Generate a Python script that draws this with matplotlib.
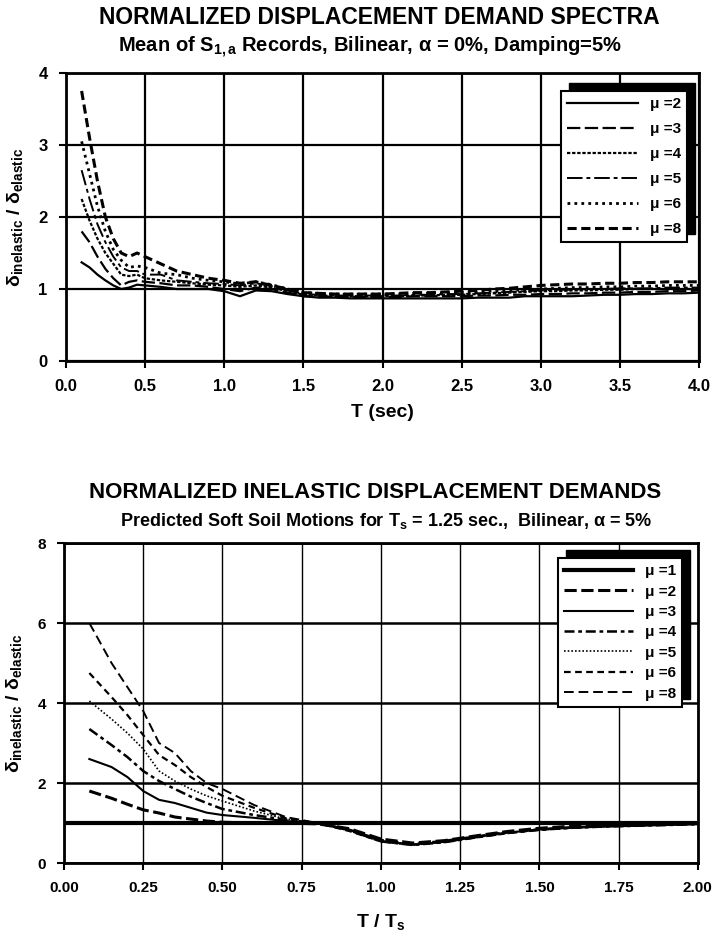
import matplotlib
matplotlib.use('Agg')
import matplotlib.pyplot as plt
from matplotlib.patches import Rectangle

plt.rcParams['font.family'] = ['Liberation Sans', 'DejaVu Sans']
plt.rcParams['font.weight'] = 'bold'
plt.rcParams['mathtext.fontset'] = 'custom'
plt.rcParams['mathtext.rm'] = 'Liberation Sans:bold'
plt.rcParams['mathtext.it'] = 'Liberation Sans:bold'
plt.rcParams['mathtext.bf'] = 'Liberation Sans:bold'

# ---- top chart data: mean of S1,a records ----
T_top = [0.1, 0.15, 0.2, 0.25, 0.3, 0.35, 0.4, 0.45, 0.5, 0.6, 0.7, 0.8, 0.9, 1.0,
         1.1, 1.2, 1.3, 1.4, 1.5, 1.6, 1.7, 1.8, 1.9, 2.0, 2.1, 2.2, 2.3, 2.4, 2.5,
         2.6, 2.7, 2.8, 2.9, 3.0, 3.1, 3.2, 3.3, 3.4, 3.5, 3.6, 3.7, 3.8, 3.9, 4.0]
mu2_top = [1.37, 1.3, 1.2, 1.12, 1.05, 1.0, 1.02, 1.06, 1.05, 1.03, 1.0, 1.0, 1.0, 0.97,
           0.9, 0.98, 0.97, 0.93, 0.9, 0.88, 0.88, 0.87, 0.87, 0.87, 0.87, 0.87, 0.87, 0.87, 0.87,
           0.88, 0.88, 0.88, 0.9, 0.9, 0.9, 0.9, 0.91, 0.92, 0.92, 0.93, 0.93, 0.94, 0.94, 0.95]
mu3_top = [1.8, 1.65, 1.45, 1.28, 1.15, 1.05, 1.1, 1.12, 1.1, 1.08, 1.05, 1.05, 1.03, 1.0,
           0.97, 1.02, 1.0, 0.95, 0.9, 0.9, 0.89, 0.89, 0.89, 0.89, 0.89, 0.9, 0.9, 0.9, 0.9,
           0.91, 0.91, 0.92, 0.92, 0.93, 0.93, 0.94, 0.94, 0.95, 0.95, 0.96, 0.96, 0.97, 0.97, 0.98]
mu4_top = [2.25, 1.95, 1.7, 1.5, 1.35, 1.2, 1.18, 1.2, 1.15, 1.12, 1.1, 1.08, 1.06, 1.05,
           1.03, 1.05, 1.02, 0.97, 0.92, 0.91, 0.9, 0.9, 0.9, 0.9, 0.9, 0.91, 0.91, 0.92, 0.92,
           0.93, 0.94, 0.95, 0.96, 0.97, 0.97, 0.98, 0.98, 0.99, 0.99, 1.0, 1.0, 1.0, 1.0, 1.0]
mu5_top = [2.65, 2.25, 1.9, 1.65, 1.45, 1.3, 1.25, 1.25, 1.2, 1.2, 1.12, 1.1, 1.08, 1.07,
           1.05, 1.08, 1.04, 0.98, 0.93, 0.92, 0.91, 0.91, 0.91, 0.91, 0.91, 0.92, 0.92, 0.93, 0.93,
           0.94, 0.95, 0.96, 0.97, 0.98, 0.99, 0.99, 1.0, 1.0, 1.01, 1.01, 1.01, 1.02, 1.02, 1.02]
mu6_top = [3.05, 2.6, 2.15, 1.8, 1.55, 1.4, 1.3, 1.32, 1.3, 1.22, 1.2, 1.15, 1.12, 1.1,
           1.07, 1.1, 1.06, 1.0, 0.95, 0.94, 0.93, 0.93, 0.93, 0.93, 0.93, 0.94, 0.94, 0.95, 0.95,
           0.96, 0.97, 0.98, 0.99, 1.0, 1.01, 1.02, 1.02, 1.03, 1.03, 1.04, 1.04, 1.05, 1.05, 1.05]
mu8_top = [3.75, 3.1, 2.5, 2.0, 1.7, 1.5, 1.45, 1.5, 1.45, 1.35, 1.25, 1.2, 1.15, 1.12,
           1.08, 1.1, 1.05, 1.0, 0.95, 0.94, 0.93, 0.93, 0.93, 0.93, 0.94, 0.95, 0.95, 0.96, 0.97,
           0.98, 1.0, 1.01, 1.03, 1.05, 1.06, 1.07, 1.07, 1.08, 1.08, 1.09, 1.09, 1.1, 1.1, 1.1]

# ---- bottom chart data: predicted soft soil motions ----
T_bot = [0.08, 0.15, 0.2, 0.25, 0.3, 0.35, 0.4, 0.45, 0.5, 0.6, 0.7, 0.8, 0.9, 1.0,
         1.1, 1.2, 1.3, 1.4, 1.5, 1.6, 1.7, 1.8, 1.9, 2.0]
T_mu1 = [0.0, 2.0]
mu1_bot = [1.0, 1.0]
mu2_bot = [1.8, 1.62, 1.47, 1.33, 1.25, 1.15, 1.1, 1.05, 1.02, 1.0, 1.0, 0.98, 0.86, 0.6,
           0.5, 0.56, 0.68, 0.79, 0.87, 0.92, 0.95, 0.97, 0.98, 1.0]
mu3_bot = [2.6, 2.4, 2.15, 1.8, 1.58, 1.5, 1.38, 1.26, 1.2, 1.13, 1.05, 1.0, 0.83, 0.55,
           0.46, 0.53, 0.65, 0.76, 0.84, 0.88, 0.91, 0.93, 0.95, 0.97]
mu4_bot = [3.35, 2.95, 2.65, 2.3, 2.05, 1.85, 1.66, 1.5, 1.35, 1.2, 1.08, 1.0, 0.82, 0.54,
           0.45, 0.52, 0.64, 0.75, 0.83, 0.88, 0.91, 0.93, 0.95, 0.97]
mu5_bot = [4.05, 3.6, 3.25, 2.85, 2.3, 2.05, 1.85, 1.68, 1.55, 1.3, 1.1, 1.0, 0.81, 0.54,
           0.45, 0.52, 0.64, 0.75, 0.83, 0.88, 0.91, 0.94, 0.96, 0.98]
mu6_bot = [4.75, 4.15, 3.7, 3.2, 2.7, 2.45, 2.15, 1.9, 1.68, 1.38, 1.12, 1.0, 0.8, 0.54,
           0.46, 0.53, 0.64, 0.75, 0.83, 0.88, 0.92, 0.94, 0.96, 0.98]
mu8_bot = [6.0, 5.0, 4.4, 3.8, 3.0, 2.75, 2.3, 2.0, 1.85, 1.45, 1.15, 1.0, 0.84, 0.58,
           0.48, 0.56, 0.67, 0.78, 0.85, 0.9, 0.93, 0.95, 0.97, 1.0]

top_ticks = [0.0, 0.5, 1.0, 1.5, 2.0, 2.5, 3.0, 3.5, 4.0]
bot_ticks = [0.0, 0.25, 0.5, 0.75, 1.0, 1.25, 1.5, 1.75, 2.0]

fig = plt.figure(figsize=(7.15, 9.39), dpi=100)
ax1 = fig.add_axes([0.092, 0.6155, 0.886, 0.3068])
ax2 = fig.add_axes([0.0895, 0.0809, 0.8865, 0.3408])


def style_axes(ax, size):
    for s in ax.spines.values():
        s.set_linewidth(2)
        s.set_color('black')
    ax.tick_params(direction='out', length=5, width=1.5, labelsize=size, pad=8)
    for lbl in ax.get_xticklabels() + ax.get_yticklabels():
        lbl.set_fontweight('bold')


def add_shadow(ax, leg, dx=8, dy=8):
    fig.canvas.draw()
    bb = leg.get_window_extent()
    inv = ax.transAxes.inverted()
    (x0, y0) = inv.transform((bb.x0 + dx, bb.y0 + dy))
    (x1, y1) = inv.transform((bb.x1 + dx, bb.y1 + dy))
    ax.add_patch(Rectangle((x0, y0), x1 - x0, y1 - y0, transform=ax.transAxes,
                           facecolor='black', edgecolor='black', zorder=4.9, clip_on=False))


# ---------------- top chart ----------------
ax1.plot(T_top, mu2_top, color='black', lw=1.6, ls='-', label='μ =2')
ax1.plot(T_top, mu3_top, color='black', lw=1.6, ls=(0, (6, 2)), label='μ =3')
ax1.plot(T_top, mu4_top, color='black', lw=1.6, ls=(0, (1.5, 0.8)), label='μ =4')
ax1.plot(T_top, mu5_top, color='black', lw=1.4, ls=(0, (8, 2, 2, 2)), label='μ =5')
ax1.plot(T_top, mu6_top, color='black', lw=2.0, ls=(0, (1, 1.5)), label='μ =6')
ax1.plot(T_top, mu8_top, color='black', lw=2.2, ls=(0, (3, 1.5)), label='μ =8')
ax1.set_xlim(0, 4)
ax1.set_ylim(0, 4)
ax1.set_xticks(top_ticks)
ax1.set_xticklabels(['%.1f' % t for t in top_ticks])
ax1.set_yticks([0, 1, 2, 3, 4])
ax1.grid(True, color='black', lw=1.6)
ax1.set_axisbelow(True)
style_axes(ax1, 12)
ax1.set_xlabel('T (sec)', fontsize=14, fontweight='bold', labelpad=7)
ax1.set_ylabel('δ$_{\\mathrm{inelastic}}$ / δ$_{\\mathrm{elastic}}$', fontsize=14,
               fontweight='bold', labelpad=10)
fig.text(0.531, 0.981, 'NORMALIZED DISPLACEMENT DEMAND SPECTRA', ha='center', va='center',
         fontsize=16.5, fontweight='bold')
fig.text(0.518, 0.95, 'Mean of S$_{1,a}$ Records, Bilinear, α = 0%, Damping=5%', ha='center',
         va='center', fontsize=14.5, fontweight='bold')
leg1 = ax1.legend(loc='upper right', bbox_to_anchor=(0.981, 0.9375), handlelength=4.6,
                  fancybox=False, framealpha=1, edgecolor='black', borderaxespad=0,
                  labelspacing=0.72, prop={'weight': 'bold', 'size': 11})
leg1.get_frame().set_linewidth(1.5)

# ---------------- bottom chart ----------------
ax2.plot(T_mu1, mu1_bot, color='black', lw=3.0, ls='-', label='μ =1')
ax2.plot(T_bot, mu2_bot, color='black', lw=2.2, ls=(0, (4, 1.5)), label='μ =2')
ax2.plot(T_bot, mu3_bot, color='black', lw=1.5, ls='-', label='μ =3')
ax2.plot(T_bot, mu4_bot, color='black', lw=1.8, ls=(0, (4, 1.5, 1.5, 1.5)), label='μ =4')
ax2.plot(T_bot, mu5_bot, color='black', lw=1.2, ls=(0, (1, 1.2)), label='μ =5')
ax2.plot(T_bot, mu6_bot, color='black', lw=1.6, ls=(0, (3, 2)), label='μ =6')
ax2.plot(T_bot, mu8_bot, color='black', lw=1.4, ls=(0, (5, 2.5)), label='μ =8')
ax2.set_xlim(0, 2)
ax2.set_ylim(0, 8)
ax2.set_xticks(bot_ticks)
ax2.set_xticklabels(['%.2f' % t for t in bot_ticks])
ax2.set_yticks([0, 2, 4, 6, 8])
ax2.grid(True, axis='y', color='black', lw=1.8)
ax2.grid(True, axis='x', color='black', lw=1.0)
ax2.set_axisbelow(True)
style_axes(ax2, 11)
ax2.set_xlabel('T / T$_{\\mathrm{s}}$', fontsize=14, fontweight='bold', labelpad=12)
ax2.set_ylabel('δ$_{\\mathrm{inelastic}}$ / δ$_{\\mathrm{elastic}}$', fontsize=14,
               fontweight='bold', labelpad=10)
fig.text(0.525, 0.476, 'NORMALIZED INELASTIC DISPLACEMENT DEMANDS', ha='center', va='center',
         fontsize=16, fontweight='bold')
fig.text(0.54, 0.445, 'Predicted Soft Soil Motions for T$_{\\mathrm{s}}$ = 1.25 sec.,  Bilinear, α = 5%',
         ha='center', va='center', fontsize=13, fontweight='bold')
leg2 = ax2.legend(loc='upper right', bbox_to_anchor=(0.975, 0.953), handlelength=4.5,
                  fancybox=False, framealpha=1, edgecolor='black', borderaxespad=0,
                  labelspacing=0.42, prop={'weight': 'bold', 'size': 11})
leg2.get_frame().set_linewidth(1.5)

add_shadow(ax1, leg1)
add_shadow(ax2, leg2)

fig.savefig('out.png', dpi=100)
